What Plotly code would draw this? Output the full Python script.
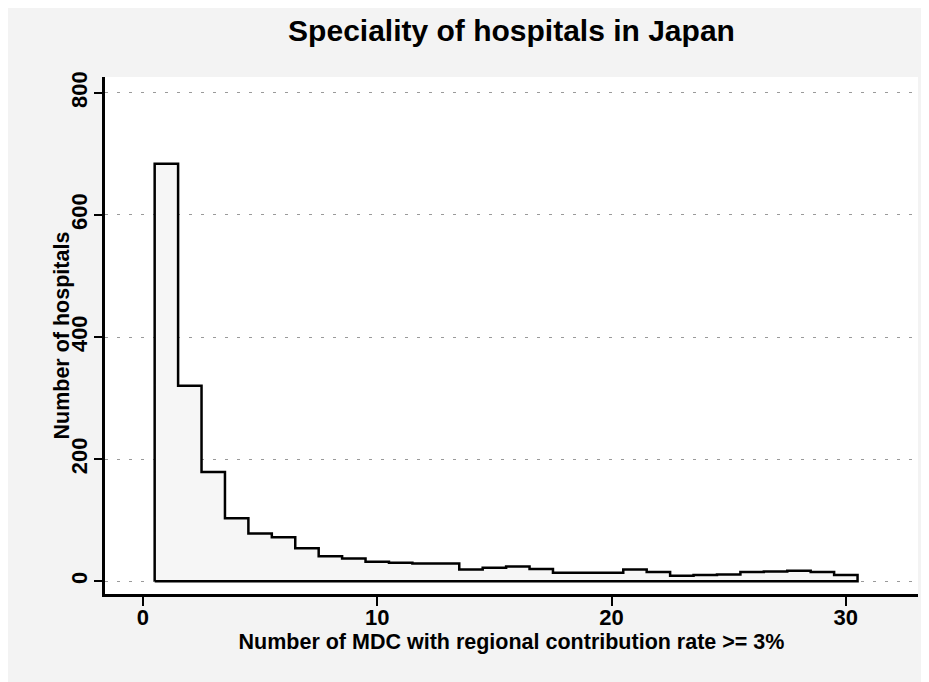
import plotly.graph_objects as go

# Number of MDC with regional contribution rate >= 3% (bins 1..30)
mdc_counts = list(range(1, 31))
hospitals = [684, 320, 179, 103, 78, 72, 54, 41, 37, 32,
             30, 29, 29, 19, 22, 24, 20, 14, 14, 14,
             19, 15, 9, 10, 11, 15, 16, 17, 15, 10]

x_ticks = [0, 10, 20, 30]
y_ticks = [0, 200, 400, 600, 800]

title_text = "Speciality of hospitals in Japan"
x_title = "Number of MDC with regional contribution rate >= 3%"
y_title = "Number of hospitals"

# step outline derived from the bins (edges at k +/- 0.5)
edges = [c - 0.5 for c in mdc_counts] + [mdc_counts[-1] + 0.5]
step_x = [edges[0]] + edges[:-1] + [edges[-1], edges[0]]
step_y = [0] + hospitals + [0, 0]

FONT = "Liberation Sans, Arial, sans-serif"
BOLD = dict(family=FONT, color="black", weight="bold")

fig = go.Figure()
fig.add_trace(go.Bar(
    x=mdc_counts, y=hospitals, width=1,
    marker=dict(color="#f6f6f6", line=dict(width=0)),
    showlegend=False, hoverinfo="skip",
))
fig.add_trace(go.Scatter(
    x=step_x, y=step_y, mode="lines",
    line=dict(color="black", width=2.5, shape="hv"),
    showlegend=False, hoverinfo="skip",
))

fig.update_layout(
    width=921, height=674,
    margin=dict(l=97, r=11, t=69, b=88),
    paper_bgcolor="#f3f3f3",
    plot_bgcolor="white",
    font=dict(size=22, **BOLD),
    title=dict(text=title_text, x=0.5, xref="paper", xanchor="center",
               y=1 - 22 / 674, yref="container", yanchor="middle",
               font=dict(size=30, **BOLD)),
    bargap=0,
    annotations=[dict(
        text=y_title, xref="paper", yref="paper", x=0, y=0.5,
        xshift=-44, textangle=-90, showarrow=False,
        xanchor="center", yanchor="middle",
        font=dict(size=21.5, **BOLD),
    )],
)
fig.update_xaxes(
    range=[-1.62, 33.08], tickvals=x_ticks,
    showline=True, linecolor="black", linewidth=2.5,
    ticks="outside", ticklen=9, tickwidth=2, tickcolor="black",
    ticklabelstandoff=-7,
    showgrid=False, zeroline=False,
    tickfont=dict(size=22, **BOLD),
    title=dict(text=x_title, font=dict(size=21.5, **BOLD), standoff=1),
)
fig.update_yaxes(
    range=[-21, 826], tickvals=y_ticks, tickangle=-90,
    showline=True, linecolor="black", linewidth=2.5,
    ticks="outside", ticklen=8, tickwidth=2, tickcolor="black",
    ticklabelstandoff=-2,
    showgrid=True, gridcolor="#9a9a9a", gridwidth=1, griddash="3px,9px",
    zeroline=False,
    tickfont=dict(size=22, **BOLD),
)

fig.write_html("out.html")
